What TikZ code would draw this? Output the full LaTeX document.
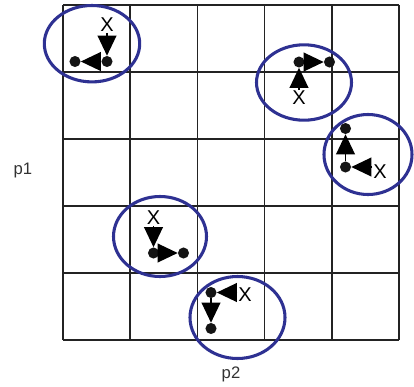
\documentclass[tikz,border=0pt]{standalone}
\usepackage{fontspec}
\setmainfont{Liberation Sans}
\usetikzlibrary{arrows.meta}
\definecolor{ringblue}{RGB}{46,49,146}
\definecolor{gridc}{RGB}{35,35,35}
\definecolor{labc}{RGB}{50,50,50}
\begin{document}
\begin{tikzpicture}[x=0.75pt,y=-0.75pt,
  gridline/.style={draw=gridc,line width=1.2pt},
  ring/.style={draw=ringblue,line width=2.3pt},
  dot/.style={circle,fill=black!92,inner sep=0pt,minimum size=8.3pt},
  xmark/.style={inner sep=0.5pt,font=\fontsize{15}{15}\selectfont},
  arr/.style={line width=1.2pt,-{Triangle[length=15pt,width=14pt]}},
  axlabel/.style={font=\fontsize{12.5}{13}\selectfont,inner sep=0pt,text=labc}]
\useasboundingbox (0,0) rectangle (414,386);
% grid
\foreach \x in {63,130.2,197.4,264.6,331.8,399} \draw[gridline] (\x,5) -- (\x,340);
\foreach \y in {5,72,139,206,273,340} \draw[gridline] (63,\y) -- (399,\y);
% axis labels
\node[axlabel] (p1) at (23,170) {p1};
\node[axlabel] (p2) at (231,374) {p2};
% motif 1
\node[dot] (c1) at (107,61.5) {};
\node[dot] (d1) at (75,61.5) {};
\node[xmark] (x1) at (107,25) {X};
\draw[arr] (x1) -- (c1);
\draw[arr] (c1) -- (d1);
\draw[ring] (92,43.7) ellipse [x radius=47.7, y radius=38.2];
% motif 2
\node[dot] (c2) at (299,62) {};
\node[dot] (d2) at (329.5,62) {};
\node[xmark] (x2) at (299,98) {X};
\draw[arr] (x2) -- (c2);
\draw[arr] (c2) -- (d2);
\draw[ring] (304,82.5) ellipse [x radius=47.5, y radius=37.7];
% motif 3
\node[dot] (c3) at (345.5,167) {};
\node[dot] (d3) at (345.5,128.5) {};
\node[xmark] (x3) at (380,171.5) {X};
\draw[arr] (x3.west |- c3) -- (c3);
\draw[arr] (c3) -- (d3);
\draw[ring] (368,154.5) ellipse [x radius=44, y radius=40];
% motif 4
\node[dot] (c4) at (153.5,253) {};
\node[dot] (d4) at (183.5,253) {};
\node[xmark] (x4) at (153.5,218) {X};
\draw[arr] (x4) -- (c4);
\draw[arr] (c4) -- (d4);
\draw[ring] (160,236.5) ellipse [x radius=46.5, y radius=40];
% motif 5
\node[dot] (c5) at (211,292.5) {};
\node[dot] (d5) at (211,328.5) {};
\node[xmark] (x5) at (245,295) {X};
\draw[arr] (x5.west |- c5) -- (c5);
\draw[arr] (c5) -- (d5);
\draw[ring] (237.5,317.5) ellipse [x radius=47.5, y radius=41];
\end{tikzpicture}
\end{document}
